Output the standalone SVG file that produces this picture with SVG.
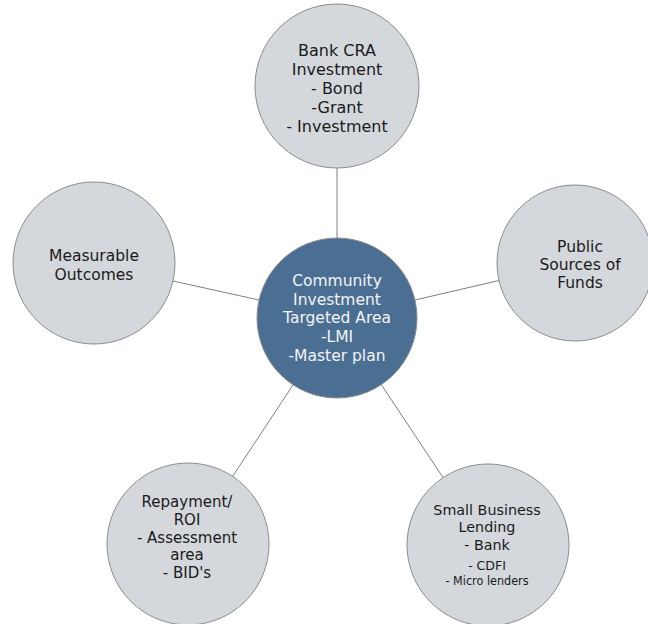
<svg xmlns="http://www.w3.org/2000/svg" width="648" height="624" viewBox="0 0 648 624">
<style>
  .bg { fill: #ffffff; }
  .node { fill: #d4d8dc; stroke: #8c8c8c; stroke-width: 1; }
  .hub { fill: #4b6f93; stroke: #8c8c8c; stroke-width: 1; }
  .edge { stroke: #808080; stroke-width: 1; fill: none; }
  text { font-family: "DejaVu Sans", Verdana, sans-serif; text-anchor: middle; fill: #1a1a1a; }
  .hubtxt { fill: #f2f4f6; }
</style>
<rect class="bg" x="0" y="0" width="648" height="624"/>
<g id="connectors">
  <line class="edge" x1="337" y1="168" x2="337" y2="238"/>
  <line class="edge" x1="173" y1="281" x2="259" y2="300"/>
  <line class="edge" x1="415" y1="300" x2="499" y2="280.5"/>
  <line class="edge" x1="293" y1="385" x2="232.6" y2="476.4"/>
  <line class="edge" x1="381.3" y1="384.6" x2="443" y2="477.5"/>
</g>
<g id="bank-cra">
  <circle class="node" cx="337" cy="86" r="82"/>
  <text font-size="16"><tspan x="337" y="56">Bank CRA</tspan><tspan x="337" y="75">Investment</tspan><tspan x="337" y="94">- Bond</tspan><tspan x="337" y="113">-Grant</tspan><tspan x="337" y="132">- Investment</tspan></text>
</g>
<g id="public-sources">
  <circle class="node" cx="575" cy="263" r="78"/>
  <text font-size="15.5"><tspan x="580" y="252">Public</tspan><tspan x="580" y="270">Sources of</tspan><tspan x="580" y="288">Funds</tspan></text>
</g>
<g id="measurable-outcomes">
  <circle class="node" cx="94" cy="263" r="81"/>
  <text font-size="15.5"><tspan x="94" y="261">Measurable</tspan><tspan x="94" y="280">Outcomes</tspan></text>
</g>
<g id="community-investment">
  <circle class="hub" cx="337" cy="318" r="80"/>
  <text class="hubtxt" font-size="15.5"><tspan x="337" y="286">Community</tspan><tspan x="337" y="304.5">Investment</tspan><tspan x="337" y="323">Targeted Area</tspan><tspan x="337" y="342">-LMI</tspan><tspan x="337" y="361">-Master plan</tspan></text>
</g>
<g id="repayment-roi">
  <circle class="node" cx="188" cy="544" r="81"/>
  <text font-size="15"><tspan x="187" y="507">Repayment/</tspan><tspan x="187" y="525">ROI</tspan><tspan x="187" y="543">- Assessment</tspan><tspan x="187" y="560">area</tspan><tspan x="187" y="578">- BID's</tspan></text>
</g>
<g id="small-business-lending">
  <circle class="node" cx="488" cy="545" r="81"/>
  <text font-size="14.3"><tspan x="487" y="515">Small Business</tspan><tspan x="487" y="532">Lending</tspan><tspan x="487" y="550">- Bank</tspan></text>
  <text font-size="12.5"><tspan x="487" y="570">- CDFI</tspan><tspan x="487" y="585" textLength="83" lengthAdjust="spacingAndGlyphs">- Micro lenders</tspan></text>
</g>
</svg>
